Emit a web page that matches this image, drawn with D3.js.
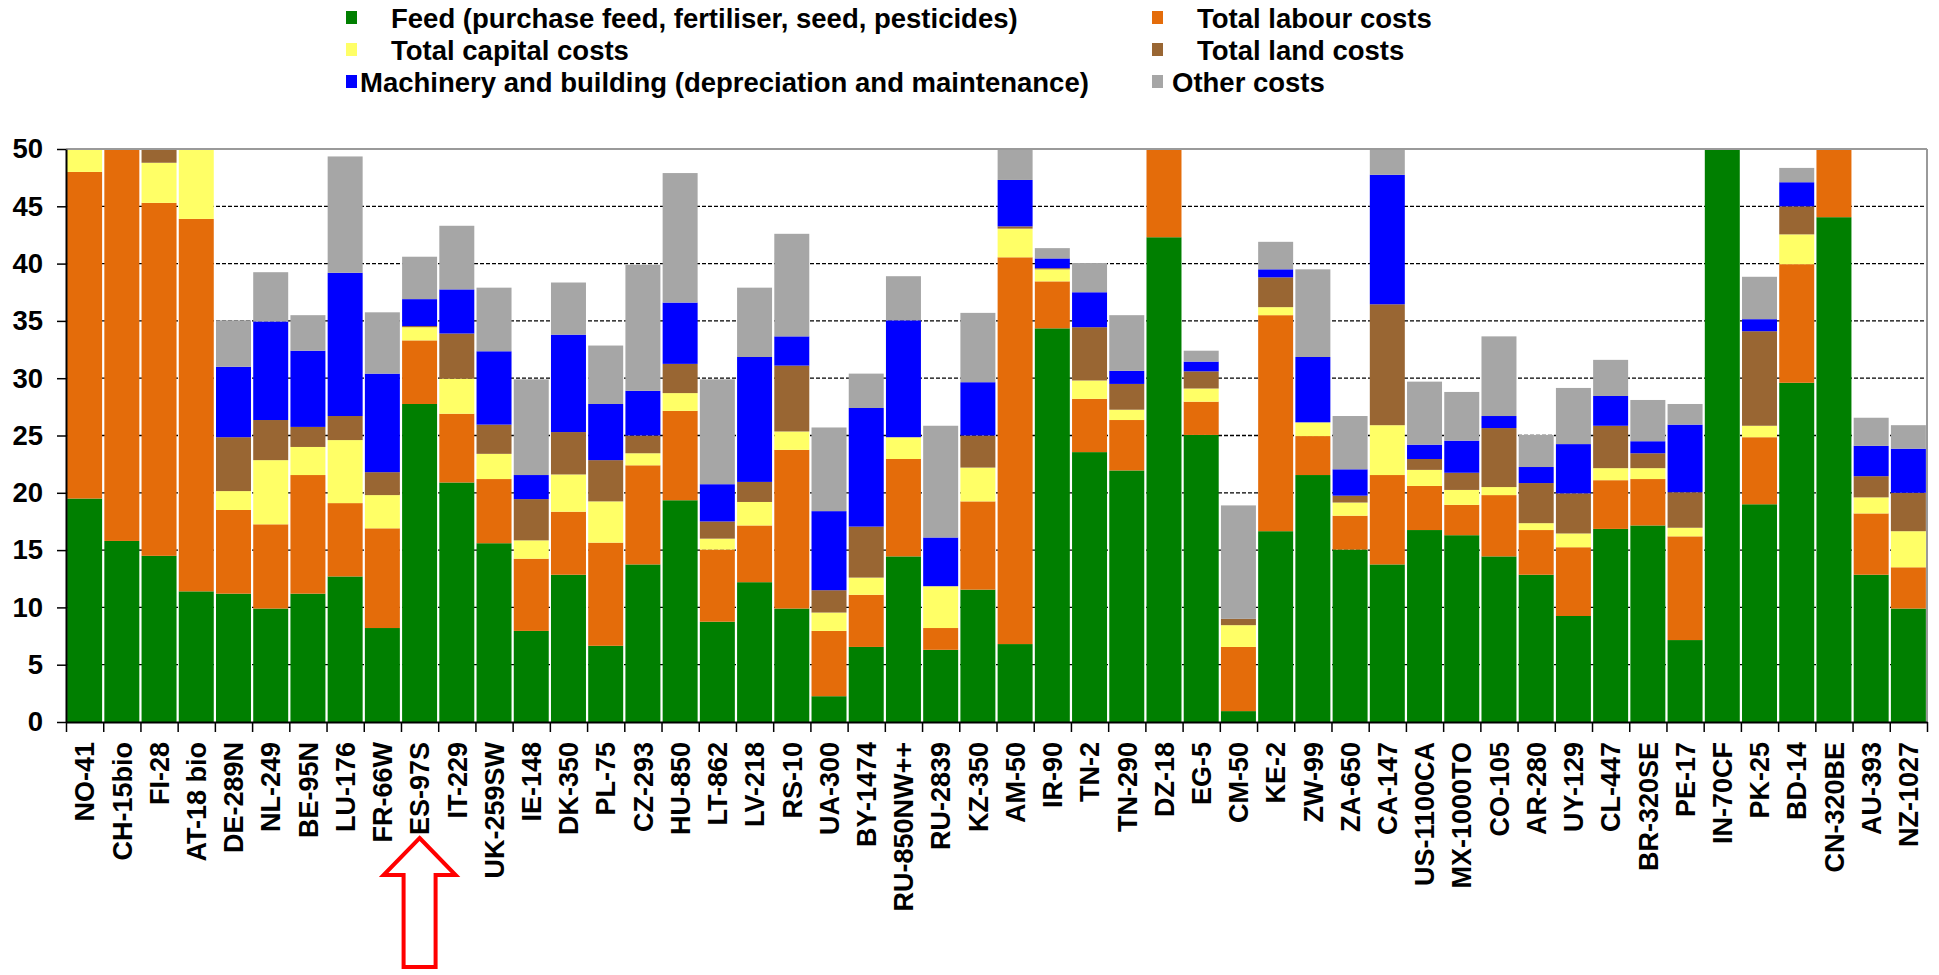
<!DOCTYPE html>
<html>
<head>
<meta charset="utf-8">
<script src="https://cdn.jsdelivr.net/npm/d3@7"></script>
<style>
  body { margin: 0; background: #fff; }
  text { font-family: "Liberation Sans", Arial, sans-serif; font-weight: bold; }
</style>
</head>
<body>
<div id="chart"></div>
<script>
// Farms (x axis)
const farms = ["NO-41", "CH-15bio", "FI-28", "AT-18 bio", "DE-289N", "NL-249", "BE-95N", "LU-176", "FR-66W", "ES-97S",
  "IT-229", "UK-259SW", "IE-148", "DK-350", "PL-75", "CZ-293", "HU-850", "LT-862", "LV-218", "RS-10",
  "UA-300", "BY-1474", "RU-850NW++", "RU-2839", "KZ-350", "AM-50", "IR-90", "TN-2", "TN-290", "DZ-18",
  "EG-5", "CM-50", "KE-2", "ZW-99", "ZA-650", "CA-147", "US-1100CA", "MX-1000TO", "CO-105", "AR-280",
  "UY-129", "CL-447", "BR-320SE", "PE-17", "IN-70CF", "PK-25", "BD-14", "CN-320BE", "AU-393", "NZ-1027"];

// cost components, stacked bottom to top
const feed = [19.5, 15.8, 14.5, 11.4, 11.2, 9.9, 11.2, 12.7, 8.2, 27.75,
  20.9, 15.6, 7.95, 12.85, 6.65, 13.75, 19.35, 8.75, 12.2, 9.9,
  2.25, 6.55, 14.45, 6.3, 11.55, 6.8, 34.35, 23.55, 21.95, 42.3,
  25.05, 0.95, 16.65, 21.55, 15.05, 13.75, 16.75, 16.3, 14.45, 12.85,
  9.25, 16.85, 17.15, 7.15, 55, 19.0, 29.6, 44.05, 12.85, 9.9];
const labour = [28.5, 36, 30.8, 32.5, 7.3, 7.35, 10.35, 6.4, 8.7, 5.55,
  6.0, 5.6, 6.3, 5.5, 9.0, 8.65, 7.8, 6.3, 4.95, 13.85,
  5.7, 4.55, 8.5, 1.9, 7.7, 33.75, 4.1, 4.65, 4.4, 9,
  2.9, 5.6, 18.85, 3.4, 2.95, 7.8, 3.85, 2.65, 5.35, 3.9,
  6.0, 4.25, 4.05, 9.05, 0, 5.85, 10.35, 8, 5.35, 3.6];
const capital = [3, 0, 3.5, 7, 1.65, 5.6, 2.45, 5.5, 2.9, 1.15,
  3.05, 2.2, 1.6, 3.25, 3.6, 1.05, 1.55, 0.95, 2.05, 1.6,
  1.6, 1.5, 1.9, 3.65, 2.95, 2.5, 1.05, 1.6, 0.9, 0,
  1.15, 1.9, 0.7, 1.2, 1.15, 4.35, 1.4, 1.3, 0.7, 0.6,
  1.2, 1.05, 0.95, 0.75, 0, 1.0, 2.6, 0, 1.4, 3.15];
const land = [0, 0, 2, 0, 4.7, 3.5, 1.75, 2.1, 2.0, 0.1,
  3.95, 2.55, 3.6, 3.7, 3.6, 1.55, 2.55, 1.5, 1.75, 5.75,
  1.95, 4.45, 0, 0, 2.8, 0.2, 0.1, 4.65, 2.25, 0,
  1.5, 0.55, 2.6, 0, 0.6, 10.55, 0.95, 1.5, 5.15, 3.5,
  3.5, 3.7, 1.3, 3.1, 0, 8.25, 2.45, 0, 1.85, 3.35];
const machinery = [0, 0, 0, 0, 6.15, 8.6, 6.65, 12.5, 8.6, 2.35,
  3.85, 6.4, 2.1, 8.5, 4.9, 3.9, 5.35, 3.25, 10.9, 2.55,
  6.9, 10.35, 10.2, 4.25, 4.65, 4.05, 0.85, 3.05, 1.15, 0,
  0.85, 0, 0.7, 5.7, 2.3, 11.3, 1.25, 2.8, 1.05, 1.4,
  4.3, 2.6, 1.05, 5.9, 0, 1.05, 2.1, 0, 2.65, 3.85];
const other = [0, 0, 0, 0, 4.05, 4.3, 3.1, 10.15, 5.35, 3.7,
  5.55, 5.55, 8.35, 4.55, 5.1, 11.0, 11.3, 9.15, 6.05, 8.95,
  7.3, 3.0, 3.85, 9.75, 6.05, 3, 0.9, 2.55, 4.85, 0,
  0.95, 9.9, 2.4, 7.65, 4.65, 2.5, 5.5, 4.25, 6.95, 2.8,
  4.9, 3.15, 3.6, 1.8, 0, 3.7, 1.25, 0, 2.45, 2.05];

const seriesNames = ["Feed (purchase feed, fertiliser, seed, pesticides)", "Total labour costs",
  "Total capital costs", "Total land costs",
  "Machinery and building (depreciation and maintenance)", "Other costs"];
const seriesKeys = ["feed", "labour", "capital", "land", "machinery", "other"];
const colors = ["#007f00", "#e46c0a", "#ffff66", "#996633", "#0000ff", "#a6a6a6"];
const yTicks = [0, 5, 10, 15, 20, 25, 30, 35, 40, 45, 50];

const rows = farms.map((f, i) => ({
  farm: f, feed: feed[i], labour: labour[i], capital: capital[i],
  land: land[i], machinery: machinery[i], other: other[i]
}));

const margin = { top: 149, right: 12, bottom: 253, left: 66 };
const width = 1939 - margin.left - margin.right;
const height = 975 - margin.top - margin.bottom;

const root = d3.select("#chart").append("svg")
  .attr("width", 1939)
  .attr("height", 975);

const svg = root.append("g")
  .attr("transform", `translate(${margin.left}, ${margin.top})`);

const x = d3.scaleBand().domain(farms).range([0, width])
  .paddingInner(0.06).paddingOuter(0.03);
const y = d3.scaleLinear().domain([0, 50]).range([height, 0]);

// dashed gridlines
svg.append("g")
  .selectAll("line")
  .data(yTicks.filter(t => t > 0 && t < 50))
  .enter().append("line")
  .attr("x1", 0).attr("x2", width)
  .attr("y1", d => y(d)).attr("y2", d => y(d))
  .attr("stroke", "#000")
  .attr("stroke-width", 1.3)
  .attr("stroke-dasharray", "4,2");

// bars clipped at 50
svg.append("clipPath").attr("id", "plotClip")
  .append("rect").attr("width", width).attr("height", height);

const stack = d3.stack().keys(seriesKeys)(rows);

svg.append("g")
  .attr("clip-path", "url(#plotClip)")
  .selectAll("g")
  .data(stack)
  .enter().append("g")
  .attr("fill", (d, i) => colors[i])
  .selectAll("rect")
  .data(d => d)
  .enter().append("rect")
  .attr("x", d => x(d.data.farm))
  .attr("width", x.bandwidth())
  .attr("y", d => y(d[1]))
  .attr("height", d => Math.max(0, y(d[0]) - y(d[1])));

// plot border top / right
svg.append("line")
  .attr("x1", 0).attr("x2", width).attr("y1", 0).attr("y2", 0)
  .attr("stroke", "#9a9a9a").attr("stroke-width", 2);
svg.append("line")
  .attr("x1", width).attr("x2", width).attr("y1", 0).attr("y2", height)
  .attr("stroke", "#9a9a9a").attr("stroke-width", 2);

// y axis
const yAxis = svg.append("g")
  .call(d3.axisLeft(y).tickValues(yTicks).tickSize(9).tickSizeOuter(0).tickPadding(14));
yAxis.select(".domain").attr("stroke-width", 2);
yAxis.selectAll(".tick line").attr("stroke-width", 1.5);
yAxis.selectAll("text")
  .style("font-size", "27.5px")
  .attr("fill", "#000");

// x axis: boundary ticks
const xEdge = d3.scaleLinear().domain([0, farms.length]).range([0, width]);
const xTickAxis = svg.append("g")
  .attr("transform", `translate(0, ${height})`)
  .call(d3.axisBottom(xEdge).ticks(farms.length).tickSize(10).tickSizeOuter(0).tickFormat(""));
xTickAxis.select(".domain").attr("stroke-width", 2);
xTickAxis.selectAll(".tick line").attr("stroke-width", 1.5);

// x axis: rotated labels
const xLabelAxis = svg.append("g")
  .attr("transform", `translate(0, ${height})`)
  .call(d3.axisBottom(x).tickSize(0));
xLabelAxis.select(".domain").remove();
xLabelAxis.selectAll("text")
  .attr("transform", "rotate(-90)")
  .attr("x", -20)
  .attr("y", 0)
  .attr("dy", "0.36em")
  .style("text-anchor", "end")
  .style("font-size", "27px")
  .attr("fill", "#000");

// red arrow pointing at ES-97S
const ax = x("ES-97S") + x.bandwidth() / 2;
const tipY = height + 116, headY = height + 153, baseY = height + 245;
svg.append("path")
  .attr("d", `M${ax},${tipY} L${ax + 36},${headY} L${ax + 16},${headY} L${ax + 16},${baseY}
              L${ax - 16},${baseY} L${ax - 16},${headY} L${ax - 36},${headY} Z`)
  .attr("fill", "#fff")
  .attr("stroke", "#ff0000")
  .attr("stroke-width", 4);

// legend
const legendPos = [
  { mx: 346, ty: 18, tx: 391 },   // Feed
  { mx: 1152, ty: 18, tx: 1197 }, // labour
  { mx: 346, ty: 50, tx: 391 },   // capital
  { mx: 1152, ty: 50, tx: 1197 }, // land
  { mx: 346, ty: 82, tx: 360 },   // machinery
  { mx: 1152, ty: 82, tx: 1172 }  // other
];
const legend = root.append("g")
  .selectAll("g")
  .data(seriesNames)
  .enter().append("g");
legend.append("rect")
  .attr("x", (d, i) => legendPos[i].mx)
  .attr("y", (d, i) => legendPos[i].ty - 7)
  .attr("width", 11)
  .attr("height", 13)
  .attr("fill", (d, i) => colors[i]);
legend.append("text")
  .attr("x", (d, i) => legendPos[i].tx)
  .attr("y", (d, i) => legendPos[i].ty)
  .attr("dy", "0.36em")
  .style("font-size", "27.5px")
  .text(d => d);
</script>
</body>
</html>
